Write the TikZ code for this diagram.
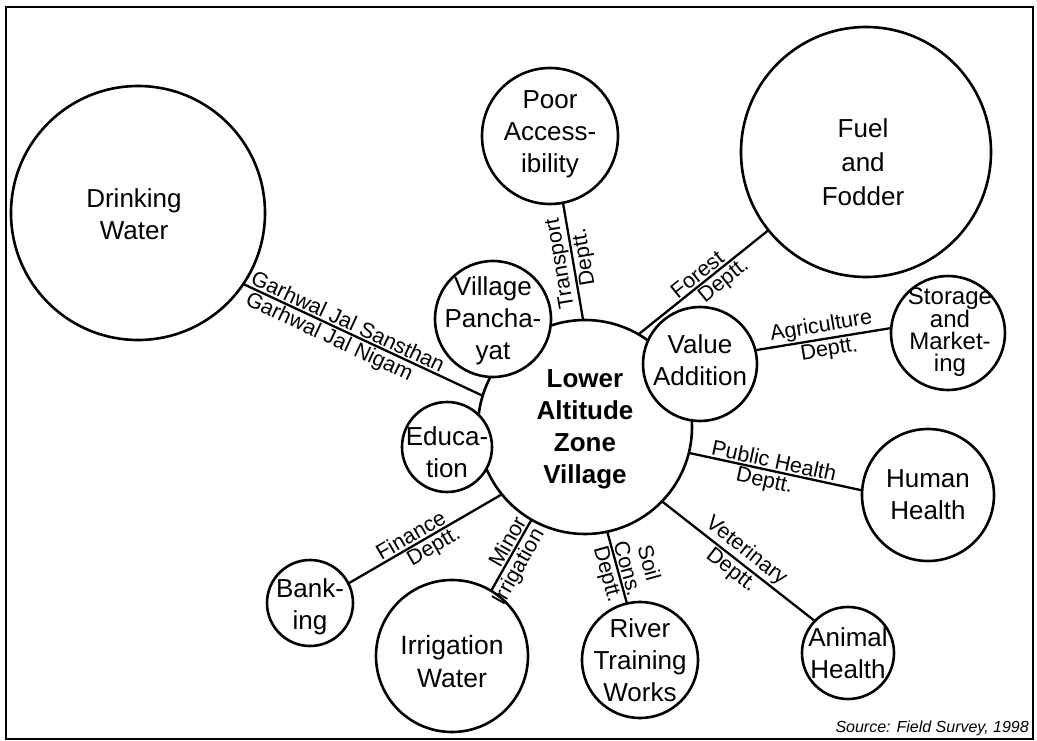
\documentclass[tikz,border=0pt]{standalone}
\usepackage{fontspec}
\setmainfont{Liberation Sans}
\begin{document}
\begin{tikzpicture}[x=1pt,y=-1pt,
  bub/.style={circle,draw,line width=2.6pt,fill=white,inner sep=0pt,outer sep=0pt},
  ctext/.style={align=center,font=\fontsize{26}{32}\selectfont,inner sep=0pt},
  conn/.style={line width=2.3pt},
  lab/.style={font=\fontsize{21.5}{22}\selectfont,sloped,allow upside down,inner sep=1.5pt,align=center},
]
\useasboundingbox (0,0) rectangle (1037,741);
\draw[line width=1.8pt] (6,7) rectangle (1033,739);

% central circle
\node[bub,minimum size=214pt] (c) at (585,427) {};
% outer circles
\node[bub,minimum size=254pt] (dw) at (138,213) {};
\node[bub,minimum size=136pt] (pa) at (550,136) {};
\node[bub,minimum size=250pt] (ff) at (866,152) {};
\node[bub,minimum size=114pt] (sm) at (948,333) {};
\node[bub,minimum size=132pt] (hh) at (928,495) {};
\node[bub,minimum size=92pt] (ah) at (848,653) {};
\node[bub,minimum size=116pt] (rt) at (640,660) {};
\node[bub,minimum size=152pt] (iw) at (452,656) {};
\node[bub,minimum size=86pt] (bk) at (310,603) {};
% circles overlapping the central one
\node[bub,minimum size=116pt] (vp) at (493,319) {};
\node[bub,minimum size=90pt] (ed) at (447,447) {};
\node[bub,minimum size=114pt] (va) at (700,364) {};

% connectors
\draw[conn] (dw.-34) -- node[lab,above,pos=.42]{Garhwal Jal Sansthan} node[lab,below,pos=.38]{Garhwal Jal Nigam} (c.163);
\draw[conn] (c.91) -- node[lab,above,pos=.5]{Transport} node[lab,below,pos=.52]{Deptt.} (pa.-79);
\draw[conn] (c.60) -- node[lab,above,pos=.5]{Forest} node[lab,below,pos=.6]{Deptt.} (ff);
\draw[conn] (va.14) -- node[lab,above,pos=.5]{Agriculture} node[lab,below,pos=.53]{Deptt.} (sm.175);
\draw[conn] (c.-14) -- node[lab,above,pos=.48]{Public Health} node[lab,below,pos=.45]{Deptt.} (hh.176.5);
\draw[conn] (c.-44) -- node[lab,above,pos=.5]{Veterinary} node[lab,below,pos=.5]{Deptt.} (ah.136);
\draw[conn] (c.-78.5) -- node[lab,above,pos=.55]{Soil\\Cons.} node[lab,below,pos=.55]{Deptt.} (rt.103);
\draw[conn] (iw.59) -- node[lab,above,pos=.62]{Minor} node[lab,below,pos=.42]{Irrigation} (c.-120);
\draw[conn] (bk.27) -- node[lab,above,pos=.44]{Finance} node[lab,below,pos=.52]{Deptt.} (c.-141.5);

% circle texts
\node[ctext,font=\bfseries\fontsize{26}{32}\selectfont] (c-t) at (585,429) {Lower\\Altitude\\Zone\\Village};
\node[ctext] (dw-t) at (134,214) {Drinking\\Water};
\node[ctext] (pa-t) at (550,134) {Poor\\Access-\\ibility};
\node[ctext,font=\fontsize{26}{34}\selectfont] (ff-t) at (863,162) {Fuel\\and\\Fodder};
\node[ctext,font=\fontsize{24}{22}\selectfont] (sm-t) at (950,332) {Storage\\and\\Market-\\ing};
\node[ctext] (hh-t) at (hh) {Human\\Health};
\node[ctext] (ah-t) at (ah) {Animal\\Health};
\node[ctext] (rt-t) at (rt) {River\\Training\\Works};
\node[ctext,font=\fontsize{26.5}{33}\selectfont] (iw-t) at (452,662) {Irrigation\\Water};
\node[ctext] (bk-t) at (310,607) {Bank-\\ing};
\node[ctext] (vp-t) at (493,321) {Village\\Pancha-\\yat};
\node[ctext] (ed-t) at (447,452) {Educa-\\tion};
\node[ctext] (va-t) at (700,360) {Value\\Addition};

\node[font=\itshape\fontsize{16}{18}\selectfont,anchor=south east,inner sep=0pt] (src) at (1029,736) {Source: Field Survey, 1998};
\end{tikzpicture}
\end{document}
